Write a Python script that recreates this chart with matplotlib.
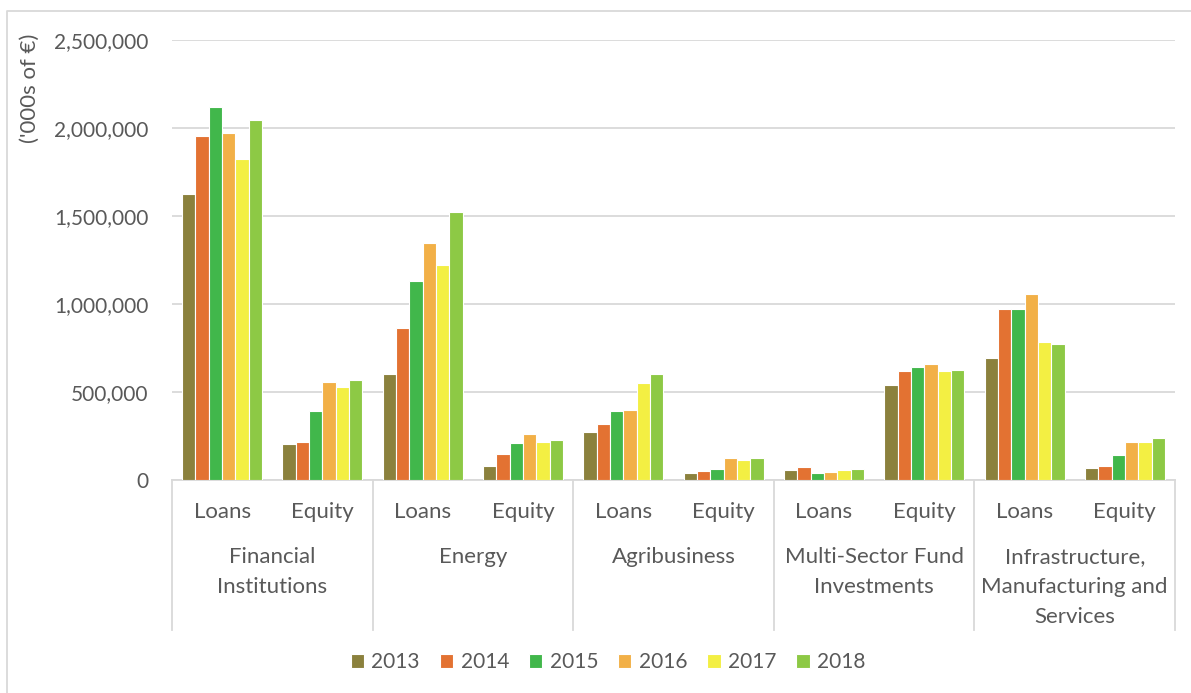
import matplotlib.pyplot as plt
from matplotlib.lines import Line2D
from matplotlib.ticker import FuncFormatter
import numpy as np

years = ['2013', '2014', '2015', '2016', '2017', '2018']
sectors = ['Financial\nInstitutions', 'Energy', 'Agribusiness',
           'Multi-Sector Fund\nInvestments', 'Infrastructure,\nManufacturing and\nServices']
kinds = ['Loans', 'Equity']
colors = ['#8b813d', '#e37232', '#41b74b', '#f2b047', '#f3ef43', '#8dc945']

# values in '000s of euro, one list per year, order: sector x (Loans, Equity)
v2013 = [1623000, 203000, 602000, 80000, 273000, 40000, 59000, 538000, 691000, 66000]
v2014 = [1956000, 216000, 864000, 150000, 318000, 51000, 72000, 618000, 972000, 78000]
v2015 = [2119000, 392000, 1129000, 210000, 392000, 61000, 42000, 644000, 972000, 144000]
v2016 = [1970000, 555000, 1345000, 260000, 396000, 125000, 45000, 659000, 1059000, 214000]
v2017 = [1824000, 530000, 1223000, 216000, 551000, 114000, 55000, 619000, 782000, 214000]
v2018 = [2045000, 568000, 1525000, 227000, 600000, 125000, 61000, 623000, 771000, 240000]
series = [v2013, v2014, v2015, v2016, v2017, v2018]

plt.rcParams['font.family'] = ['Lato', 'DejaVu Sans']
txt = '#595959'
grid = '#d9d9d9'

fig = plt.figure(figsize=(11.91, 6.93), dpi=100)
W, H = 1191, 693
ax = fig.add_axes([172 / W, 1 - 480 / H, (1175 - 172) / W, 440 / H])

# chart frame: only left and top edges are inside the picture
fig.lines.append(Line2D([7 / W, 7 / W, 1.0], [0, 1 - 11 / H, 1 - 11 / H],
                        transform=fig.transFigure, color=grid, linewidth=1.3))

n = len(years)
slot = 0.133
x = np.arange(10) + 0.5
for i, (yr, vals) in enumerate(zip(years, series)):
    ax.bar(x + (i - (n - 1) / 2) * slot, vals, width=slot, color=colors[i],
           edgecolor='white', linewidth=0.8, label=yr, zorder=3)

ax.set_xlim(0, 10)
ax.set_ylim(0, 2500000)
ax.set_yticks(np.arange(0, 2500001, 500000))
ax.yaxis.set_major_formatter(FuncFormatter(lambda v, p: f'{int(v):,}'))
ax.tick_params(axis='y', length=0, pad=17, labelsize=15, labelcolor=txt)
ax.set_xticks([])
ax.grid(axis='y', color=grid, linewidth=1.3, zorder=0)
for s in ['top', 'right', 'left']:
    ax.spines[s].set_visible(False)
ax.spines['bottom'].set_color(grid)
ax.spines['bottom'].set_linewidth(1.3)

# multi-level category axis
trans = ax.get_xaxis_transform()
for b in range(6):
    ax.plot([2 * b, 2 * b], [0, -150 / 440], color=grid, linewidth=1.3,
            transform=trans, clip_on=False)
for k in range(10):
    ax.text(k + 0.5, -32 / 440, kinds[k % 2], transform=trans, ha='center',
            va='center', fontsize=16, color=txt)
for g, name in enumerate(sectors):
    for j, part in enumerate(name.split('\n')):
        ax.text(2 * g + 1, -(77 + 30 * j) / 440, part, transform=trans, ha='center',
                va='center', fontsize=16, color=txt)

fig.text(30 / W, 1 - 34 / H, "('000s of €)", rotation=90, ha='center', va='top',
         fontsize=16, color=txt)

fig.legend(loc='center', bbox_to_anchor=(608 / W, 1 - 662 / H), ncol=6, frameon=False,
           fontsize=15, labelcolor=txt, handlelength=0.65, handleheight=0.65,
           handletextpad=0.35, columnspacing=0.95)

fig.savefig('out.png', dpi=100)
